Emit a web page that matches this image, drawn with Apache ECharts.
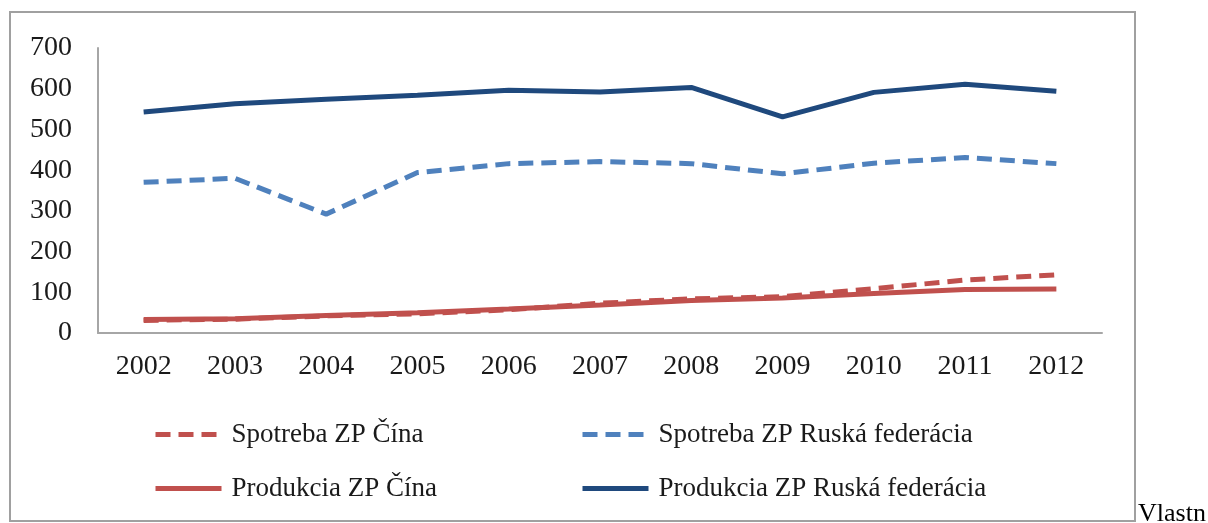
<!DOCTYPE html>
<html>
<head>
<meta charset="utf-8">
<script src="https://cdn.jsdelivr.net/npm/echarts@6/dist/echarts.min.js"></script>
<style>
html,body{margin:0;padding:0;background:#fff;}
#c{width:1208px;height:523px;}
</style>
</head>
<body>
<div id="c"></div>
<script>
var years = ['2002','2003','2004','2005','2006','2007','2008','2009','2010','2011','2012'];
var spotrebaCina = [31, 34, 42, 47, 57, 73, 84, 89, 109, 130, 143];
var spotrebaRus = [370, 380, 292, 394, 416, 421, 416, 391, 417, 431, 416];
var produkciaCina = [33, 35, 43, 50, 59, 69, 80, 86, 97, 107, 108];
var produkciaRus = [543, 563, 574, 584, 596, 592, 603, 531, 591, 611, 594];
var yTicks = [0, 100, 200, 300, 400, 500, 600, 700];

var FONT = '"Liberation Serif", "DejaVu Serif", serif';
var RED = '#C0504D', BLUE = '#4F81BD', NAVY = '#1F497D';
var DASH = [15, 8];

var chart = echarts.init(document.getElementById('c'));
function lg(name, left, top) {
  return {
    data: [name], left: left, top: top, orient: 'horizontal',
    itemWidth: 66, itemHeight: 14, itemGap: 0,
    itemStyle: {opacity: 0},
    lineStyle: {width: 5, opacity: 1},
    textStyle: {fontFamily: FONT, fontSize: 27, color: '#1a1a1a', padding: [0,0,0,5]},
    selectedMode: false, padding: 0
  };
}
chart.setOption({
  backgroundColor: '#fff',
  animation: false,
  grid: {left: 98, right: 106, top: 48, bottom: 190, containLabel: false},
  xAxis: {
    type: 'category', data: years, boundaryGap: true,
    axisLine: {lineStyle: {color: '#a6a6a6', width: 2}},
    axisTick: {show: false},
    axisLabel: {fontFamily: FONT, fontSize: 28, color: '#1a1a1a', margin: 20}
  },
  yAxis: {
    type: 'value', min: yTicks[0], max: yTicks[yTicks.length-1], interval: 100,
    axisLine: {show: true, lineStyle: {color: '#a6a6a6', width: 2}},
    axisTick: {show: false},
    splitLine: {show: false},
    axisLabel: {fontFamily: FONT, fontSize: 28, color: '#1a1a1a', margin: 26}
  },
  legend: [
    lg('Spotreba ZP Čína', 153, 421),
    lg('Spotreba ZP Ruská federácia', 580, 421),
    lg('Produkcia ZP Čína', 153, 475),
    lg('Produkcia ZP Ruská federácia', 580, 475)
  ],
  series: [
    {name: 'Spotreba ZP Čína', type: 'line', data: spotrebaCina, symbol: 'none',
     lineStyle: {color: RED, width: 5, type: DASH}, itemStyle: {color: RED}},
    {name: 'Spotreba ZP Ruská federácia', type: 'line', data: spotrebaRus, symbol: 'none',
     lineStyle: {color: BLUE, width: 5, type: DASH}, itemStyle: {color: BLUE}},
    {name: 'Produkcia ZP Čína', type: 'line', data: produkciaCina, symbol: 'none',
     lineStyle: {color: RED, width: 5}, itemStyle: {color: RED}},
    {name: 'Produkcia ZP Ruská federácia', type: 'line', data: produkciaRus, symbol: 'none',
     lineStyle: {color: NAVY, width: 5}, itemStyle: {color: NAVY}}
  ],
  graphic: [
    {type: 'rect', shape: {x: 10, y: 12, width: 1125, height: 509},
     style: {fill: 'none', stroke: '#a0a0a0', lineWidth: 2}, silent: true},
    {type: 'text', left: 1138, top: 501,
     style: {text: 'Vlastn', font: '26px ' + FONT, fill: '#000'}}
  ]
});
</script>
</body>
</html>
